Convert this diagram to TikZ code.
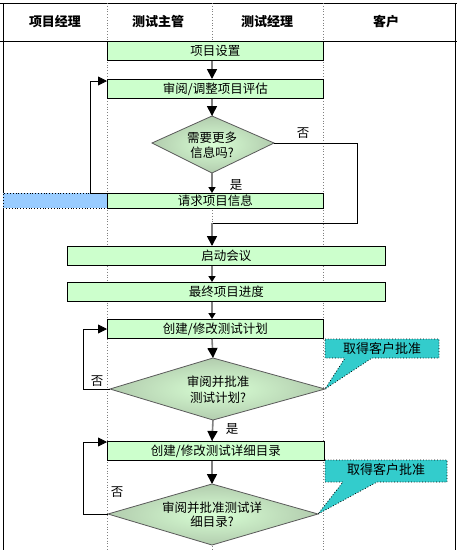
\documentclass[tikz,border=0pt]{standalone}
\usepackage{fontspec}
\setmainfont{Noto Sans CJK SC}
\usetikzlibrary{arrows.meta}
\definecolor{boxgreen}{HTML}{CCFFCC}
\definecolor{laneblue}{HTML}{99CCFF}
\definecolor{calteal}{HTML}{33CCCC}
\definecolor{flowgray}{HTML}{808080}
\definecolor{dinner}{HTML}{D8FFD4}
\definecolor{douter}{HTML}{B2CCAE}
\begin{document}
\begin{tikzpicture}[x=1pt,y=-1pt,
  txt/.style={font=\fontsize{12.5}{15}\selectfont, inner sep=0pt},
  hdr/.style={font=\fontsize{13}{15}\selectfont\bfseries, inner sep=0pt},
  box/.style={draw=black, line width=0.8pt, fill=boxgreen, anchor=north west, inner sep=0pt, font=\fontsize{12.5}{14}\selectfont},
  nbox/.style={box, minimum width=216pt, minimum height=19pt},
  wbox/.style={box, minimum width=318pt, minimum height=19pt},
  lane/.style={draw=flowgray, line width=0.8pt, dotted},
  frame/.style={draw=black, line width=1pt},
  flow/.style={draw=flowgray, line width=1.6pt, -{Triangle[length=10pt,width=10pt,color=black]}},
  sflow/.style={draw=flowgray, line width=1.6pt, -{Triangle[length=6pt,width=7pt,color=black]}},
  backline/.style={draw=black, line width=0.8pt},
  back/.style={backline, -{Triangle[length=9pt,width=9pt,color=black]}},
  dshape/.style={draw=flowgray!70!black, line width=0.8pt, shading=radial, inner color=dinner, outer color=douter},
  callout/.style={draw=black, line width=0.8pt, dotted, fill=calteal}
]
\useasboundingbox (0,0) rectangle (457,550);
\fill[white] (0,0) rectangle (457,550);

% frame
\draw[frame] (0,3) -- (457,3);
\draw[frame] (0,41) -- (457,41);
\draw[frame] (3,3) -- (3,550);
\draw[frame] (455,3) -- (455,550);

% lanes
\coordinate (L1) at (107,0);
\coordinate (L2) at (212,0);
\coordinate (L3) at (323,0);
\draw[lane] (107,3) -- (107,550);
\draw[lane] (212,3) -- (212,550);
\draw[lane] (323,3) -- (323,550);

% headers
\node[hdr] (h1) at (55,22) {项目经理};
\node[hdr] (h2) at (158,22) {测试主管};
\node[hdr] (h3) at (267,22) {测试经理};
\node[hdr] (h4) at (386,22) {客户};

% boxes
\node[nbox] (setup) at (107,41) {项目设置};
\node[nbox] (review) at (107,79) {审阅/调整项目评估};
\node[box, minimum width=104pt, minimum height=15pt, fill=laneblue, dotted] (pmreq) at (3,193) {};
\node[nbox, minimum height=15pt] (request) at (107,193) {请求项目信息};
\node[wbox] (kickoff) at (67,246) {启动会议};
\node[wbox] (sched) at (67,282) {最终项目进度};
\node[nbox] (plan) at (107,319) {创建/修改测试计划};
\node[box, minimum width=217pt, minimum height=19pt] (detail) at (107,441) {创建/修改测试详细目录};

% diamonds
\coordinate (d1t) at (212,116);
\coordinate (d1r) at (274,143);
\coordinate (d1b) at (212,173);
\coordinate (d1l) at (152,143);
\shadedraw[dshape] (d1t) -- (d1r) -- (d1b) -- (d1l) -- cycle;
\node[txt, align=center] (d1) at (212,145) {需要更多\\信息吗?};

\coordinate (d2t) at (213,358);
\coordinate (d2r) at (325,389);
\coordinate (d2b) at (213,420);
\coordinate (d2l) at (110,389);
\shadedraw[dshape] (d2t) -- (d2r) -- (d2b) -- (d2l) -- cycle;
\node[txt, align=center, font=\fontsize{12.5}{16}\selectfont] (d2) at (218,390) {审阅并批准\\测试计划?};

\coordinate (d3t) at (212,484);
\coordinate (d3r) at (318,514);
\coordinate (d3b) at (212,545);
\coordinate (d3l) at (108,514);
\shadedraw[dshape] (d3t) -- (d3r) -- (d3b) -- (d3l) -- cycle;
\node[txt, align=center, font=\fontsize{12.5}{14}\selectfont] (d3) at (212,515) {审阅并批准测试详\\细目录?};

% main flow
\draw[flow] (setup.south -| L2) -- (review.north -| L2);
\draw[flow] (review.south -| L2) -- (d1t);
\draw[sflow] (d1b) -- (request.north -| L2);
\coordinate (j1) at (212,223);
\coordinate (j2) at (357,223);
\draw[backline] (d1r) -- (d1r -| j2) -- (j2) -- (j1);
\draw[flow] (j1) -- (kickoff.north -| L2);
\draw[sflow] (kickoff.south -| L2) -- (sched.north -| L2);
\draw[sflow] (sched.south -| L2) -- (plan.north -| L2);
\draw[flow] (plan.south -| L2) -- (d2t);
\draw[flow] (d2b) -- (detail.north -| L2);
\draw[flow] (detail.south -| L2) -- (d3t);

% back loops
\coordinate (b1) at (90,81);
\draw[back] (request.north west) -- (request.north west -| b1) -- (b1) -- (b1 -| review.west);
\coordinate (b2) at (83,329);
\draw[back] (d2l) -- (d2l -| b2) -- (b2) -- (b2 -| plan.west);
\coordinate (b3) at (83,442);
\draw[back] (d3l) -- (d3l -| b3) -- (b3) -- (b3 -| detail.west);

% labels
\node[txt] (n1) at (303,133) {否};
\node[txt] (y1) at (236,185) {是};
\node[txt] (n2) at (97,381) {否};
\node[txt] (y2) at (232,429) {是};
\node[txt] (n3) at (117,492) {否};

% callouts
\draw[callout] (325,339) -- (439,339) -- (439,358) -- (372,358) -- (d2r) -- (345,358) -- (325,358) -- cycle;
\node[txt, font=\fontsize{13}{14}\selectfont] (c1) at (382,348.5) {取得客户批准};
\draw[callout] (325,460) -- (447,460) -- (447,482) -- (377,482) -- (d3r) -- (343,482) -- (325,482) -- cycle;
\node[txt, font=\fontsize{13}{14}\selectfont] (c2) at (386,470) {取得客户批准};
\end{tikzpicture}
\end{document}
